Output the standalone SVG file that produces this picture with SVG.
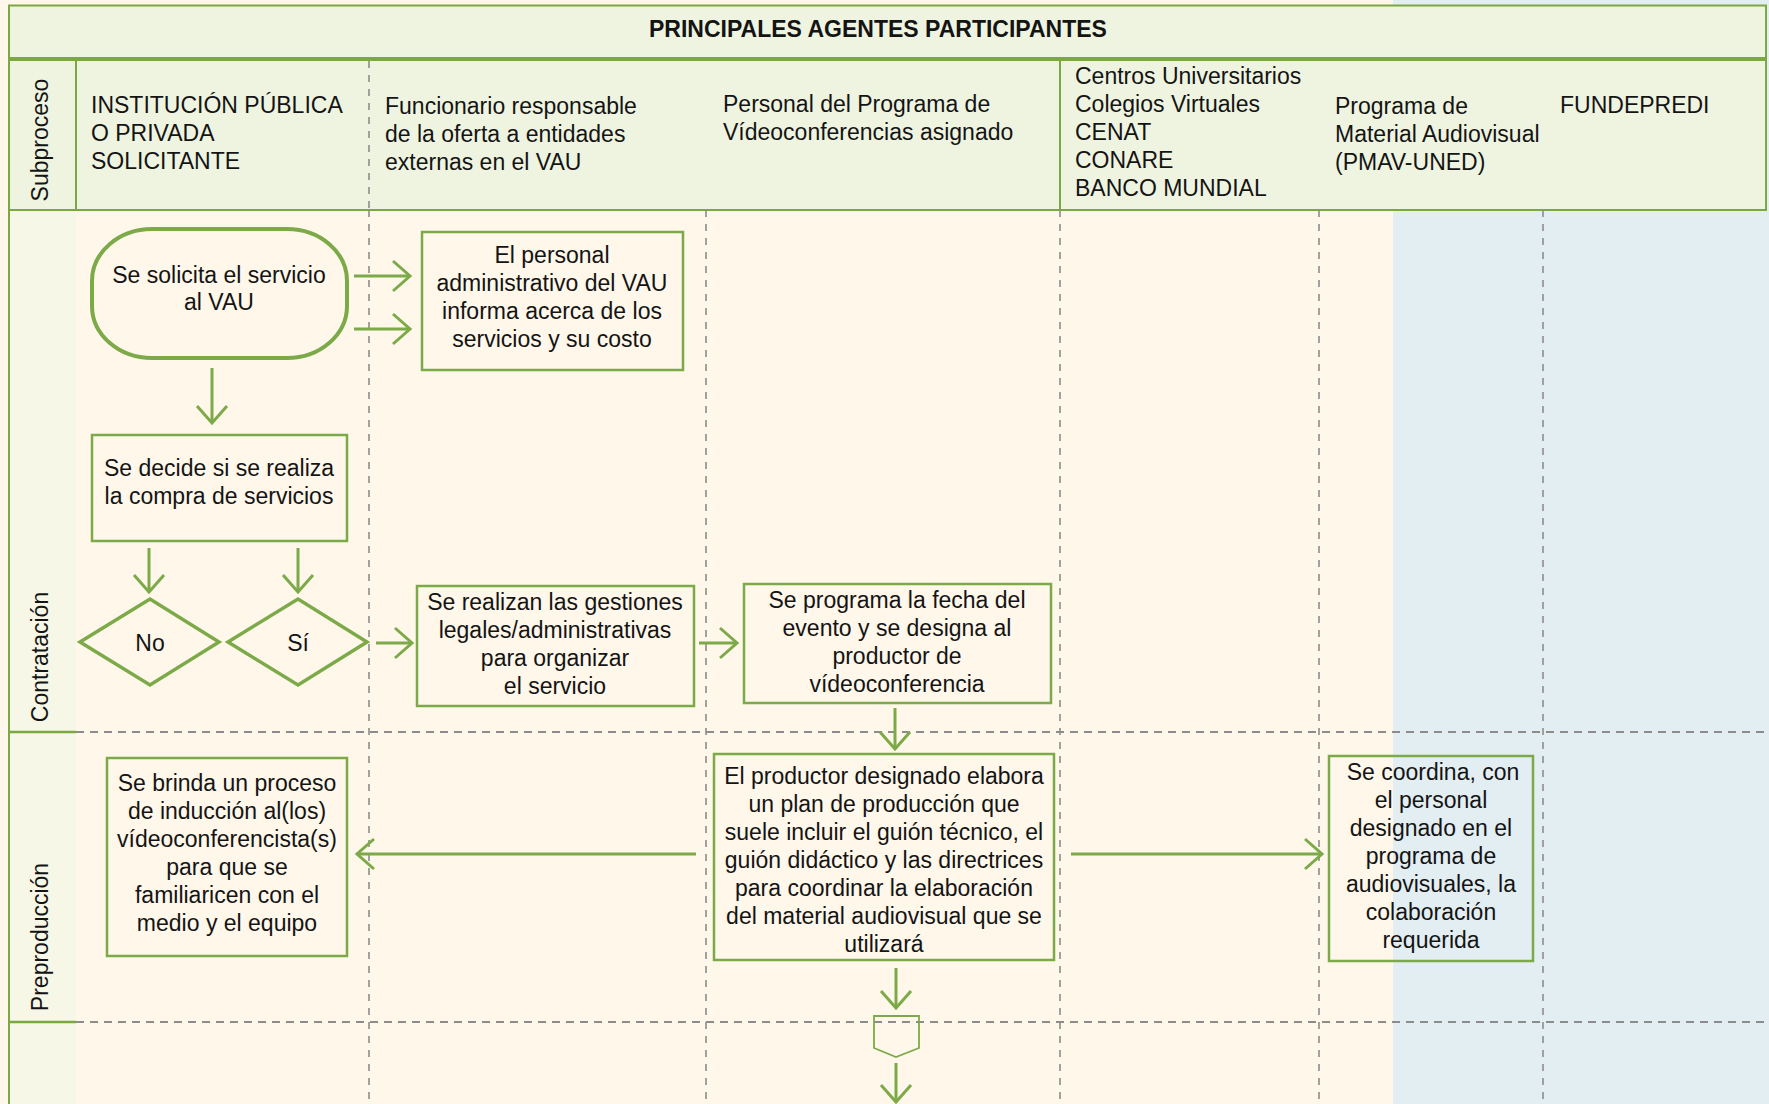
<svg xmlns="http://www.w3.org/2000/svg" width="1769" height="1104" viewBox="0 0 1769 1104">
<defs>
<style>
.t{font-family:"Liberation Sans",Arial,Helvetica,sans-serif;font-size:23px;fill:#141414}
.c{text-anchor:middle}
.b{font-weight:bold}
.box{fill:none;stroke:#7DAA48;stroke-width:2.5}
.term{fill:none;stroke:#7DAA48;stroke-width:4}
.dia{fill:none;stroke:#7DAA48;stroke-width:3.5}
.conn{fill:none;stroke:#7DAA48;stroke-width:3;marker-end:url(#ah)}
.lane{stroke:#8C8C8C;stroke-width:1.6;stroke-dasharray:7 7;fill:none}
.row{stroke:#8C8C8C;stroke-width:2;stroke-dasharray:8 6;fill:none}
.frame{fill:#EFF4E1;stroke:#7BA83F;stroke-width:2}
.gl{stroke:#7BA83F;fill:none}
</style>
<marker id="ah" markerUnits="userSpaceOnUse" markerWidth="22" markerHeight="34" viewBox="0 0 22 34" refX="19" refY="17" orient="auto">
<path d="M2,2 L19,17 L2,32" fill="none" stroke="#7DAA48" stroke-width="3"/>
</marker>
</defs>

<!-- backgrounds -->
<rect x="0" y="0" width="1393" height="1104" fill="#FEF7EA"/>
<rect x="1393" y="0" width="376" height="1104" fill="#E3EEF3"/>
<rect x="9" y="210" width="67" height="894" fill="#F6F7E7"/>

<!-- header -->
<g id="header">
<rect class="frame" x="9" y="5.5" width="1757" height="53.5"/>
<rect class="frame" x="9" y="59" width="1757" height="151"/>
<line class="gl" x1="9" y1="59" x2="1766" y2="59" stroke-width="4"/>
<line class="gl" x1="76" y1="59" x2="76" y2="210" stroke-width="2"/>
<line class="gl" x1="1060" y1="59" x2="1060" y2="210" stroke-width="2"/>
<line class="lane" x1="369" y1="61" x2="369" y2="209"/>
<text class="t b c" x="878" y="37">PRINCIPALES AGENTES PARTICIPANTES</text>
<text class="t c" transform="translate(48,140) rotate(-90)">Subproceso</text>
<text class="t" x="91" y="113">INSTITUCIÓN PÚBLICA</text>
<text class="t" x="91" y="141">O PRIVADA</text>
<text class="t" x="91" y="169">SOLICITANTE</text>
<text class="t" x="385" y="114">Funcionario responsable</text>
<text class="t" x="385" y="142">de la oferta a entidades</text>
<text class="t" x="385" y="170">externas en el VAU</text>
<text class="t" x="723" y="112">Personal del Programa de</text>
<text class="t" x="723" y="140">Vídeoconferencias asignado</text>
<text class="t" x="1075" y="84">Centros Universitarios</text>
<text class="t" x="1075" y="112">Colegios Virtuales</text>
<text class="t" x="1075" y="140">CENAT</text>
<text class="t" x="1075" y="168">CONARE</text>
<text class="t" x="1075" y="196">BANCO MUNDIAL</text>
<text class="t" x="1335" y="114">Programa de</text>
<text class="t" x="1335" y="142">Material Audiovisual</text>
<text class="t" x="1335" y="170">(PMAV-UNED)</text>
<text class="t" x="1560" y="113">FUNDEPREDI</text>
</g>

<!-- lanes and rows -->
<g id="lanes">
<line class="gl" x1="9" y1="210" x2="9" y2="1104" stroke-width="2"/>
<line class="lane" x1="369" y1="210" x2="369" y2="1104"/>
<line class="lane" x1="706" y1="210" x2="706" y2="1104"/>
<line class="lane" x1="1060" y1="210" x2="1060" y2="1104"/>
<line class="lane" x1="1319" y1="210" x2="1319" y2="1104"/>
<line class="lane" x1="1543" y1="210" x2="1543" y2="1104"/>
<line class="gl" x1="9" y1="732" x2="76" y2="732" stroke-width="2.5"/>
<line class="row" x1="76" y1="732" x2="1769" y2="732"/>
<line class="gl" x1="9" y1="1022" x2="76" y2="1022" stroke-width="2.5"/>
<line class="row" x1="76" y1="1022" x2="1769" y2="1022"/>
<text class="t c" transform="translate(48,657) rotate(-90)">Contratación</text>
<text class="t c" transform="translate(48,937) rotate(-90)">Preproducción</text>
</g>

<!-- nodes -->
<g id="n-solicita">
<rect class="term" x="92" y="229" width="255" height="129" rx="60" ry="52"/>
<text class="t c" x="219" y="283">Se solicita el servicio</text>
<text class="t c" x="219" y="310">al VAU</text>
</g>
<g id="n-personal">
<rect class="box" x="422" y="232" width="261" height="138"/>
<text class="t c" x="552" y="263">El personal</text>
<text class="t c" x="552" y="291">administrativo del VAU</text>
<text class="t c" x="552" y="319">informa acerca de los</text>
<text class="t c" x="552" y="347">servicios y su costo</text>
</g>
<g id="n-decide">
<rect class="box" x="92" y="435" width="255" height="106"/>
<text class="t c" x="219" y="476">Se decide si se realiza</text>
<text class="t c" x="219" y="504">la compra de servicios</text>
</g>
<g id="n-no">
<polygon class="dia" points="80,642 150,599 219,642 150,685"/>
<text class="t c" x="150" y="651">No</text>
</g>
<g id="n-si">
<polygon class="dia" points="228,642 298,599 367,642 298,685"/>
<text class="t c" x="298" y="651">Sí</text>
</g>
<g id="n-gestiones">
<rect class="box" x="417" y="586" width="277" height="120"/>
<text class="t c" x="555" y="610">Se realizan las gestiones</text>
<text class="t c" x="555" y="638">legales/administrativas</text>
<text class="t c" x="555" y="666">para organizar</text>
<text class="t c" x="555" y="694">el servicio</text>
</g>
<g id="n-fecha">
<rect class="box" x="744" y="584" width="307" height="119"/>
<text class="t c" x="897" y="608">Se programa la fecha del</text>
<text class="t c" x="897" y="636">evento y se designa al</text>
<text class="t c" x="897" y="664">productor de</text>
<text class="t c" x="897" y="692">vídeoconferencia</text>
</g>
<g id="n-productor">
<rect class="box" x="714" y="754" width="340" height="206"/>
<text class="t c" x="884" y="784">El productor designado elabora</text>
<text class="t c" x="884" y="812">un plan de producción que</text>
<text class="t c" x="884" y="840">suele incluir el guión técnico, el</text>
<text class="t c" x="884" y="868">guión didáctico y las directrices</text>
<text class="t c" x="884" y="896">para coordinar la elaboración</text>
<text class="t c" x="884" y="924">del material audiovisual que se</text>
<text class="t c" x="884" y="952">utilizará</text>
</g>
<g id="n-induccion">
<rect class="box" x="107" y="758" width="240" height="198"/>
<text class="t c" x="227" y="791">Se brinda un proceso</text>
<text class="t c" x="227" y="819">de inducción al(los)</text>
<text class="t c" x="227" y="847">vídeoconferencista(s)</text>
<text class="t c" x="227" y="875">para que se</text>
<text class="t c" x="227" y="903">familiaricen con el</text>
<text class="t c" x="227" y="931">medio y el equipo</text>
</g>
<g id="n-coordina">
<rect class="box" x="1329" y="756" width="204" height="205"/>
<text class="t c" x="1433" y="780">Se coordina, con</text>
<text class="t c" x="1431" y="808">el personal</text>
<text class="t c" x="1431" y="836">designado en el</text>
<text class="t c" x="1431" y="864">programa de</text>
<text class="t c" x="1431" y="892">audiovisuales, la</text>
<text class="t c" x="1431" y="920">colaboración</text>
<text class="t c" x="1431" y="948">requerida</text>
</g>
<g id="n-offpage">
<path d="M874,1016 H919 V1048 L896,1057 L874,1048 Z" fill="none" stroke="#7DAA48" stroke-width="1.8"/>
</g>

<!-- connectors -->
<g id="connectors">
<path class="conn" d="M354,276 H410"/>
<path class="conn" d="M354,329 H410"/>
<path class="conn" d="M212,368 V423"/>
<path class="conn" d="M149,548 V592"/>
<path class="conn" d="M298,548 V592"/>
<path class="conn" d="M376,643 H412"/>
<path class="conn" d="M699,643 H737"/>
<path class="conn" d="M895,708 V749"/>
<path class="conn" d="M696,854 H357"/>
<path class="conn" d="M1071,854 H1322"/>
<path class="conn" d="M896,968 V1008"/>
<path class="conn" d="M896,1063 V1102"/>
</g>
</svg>
